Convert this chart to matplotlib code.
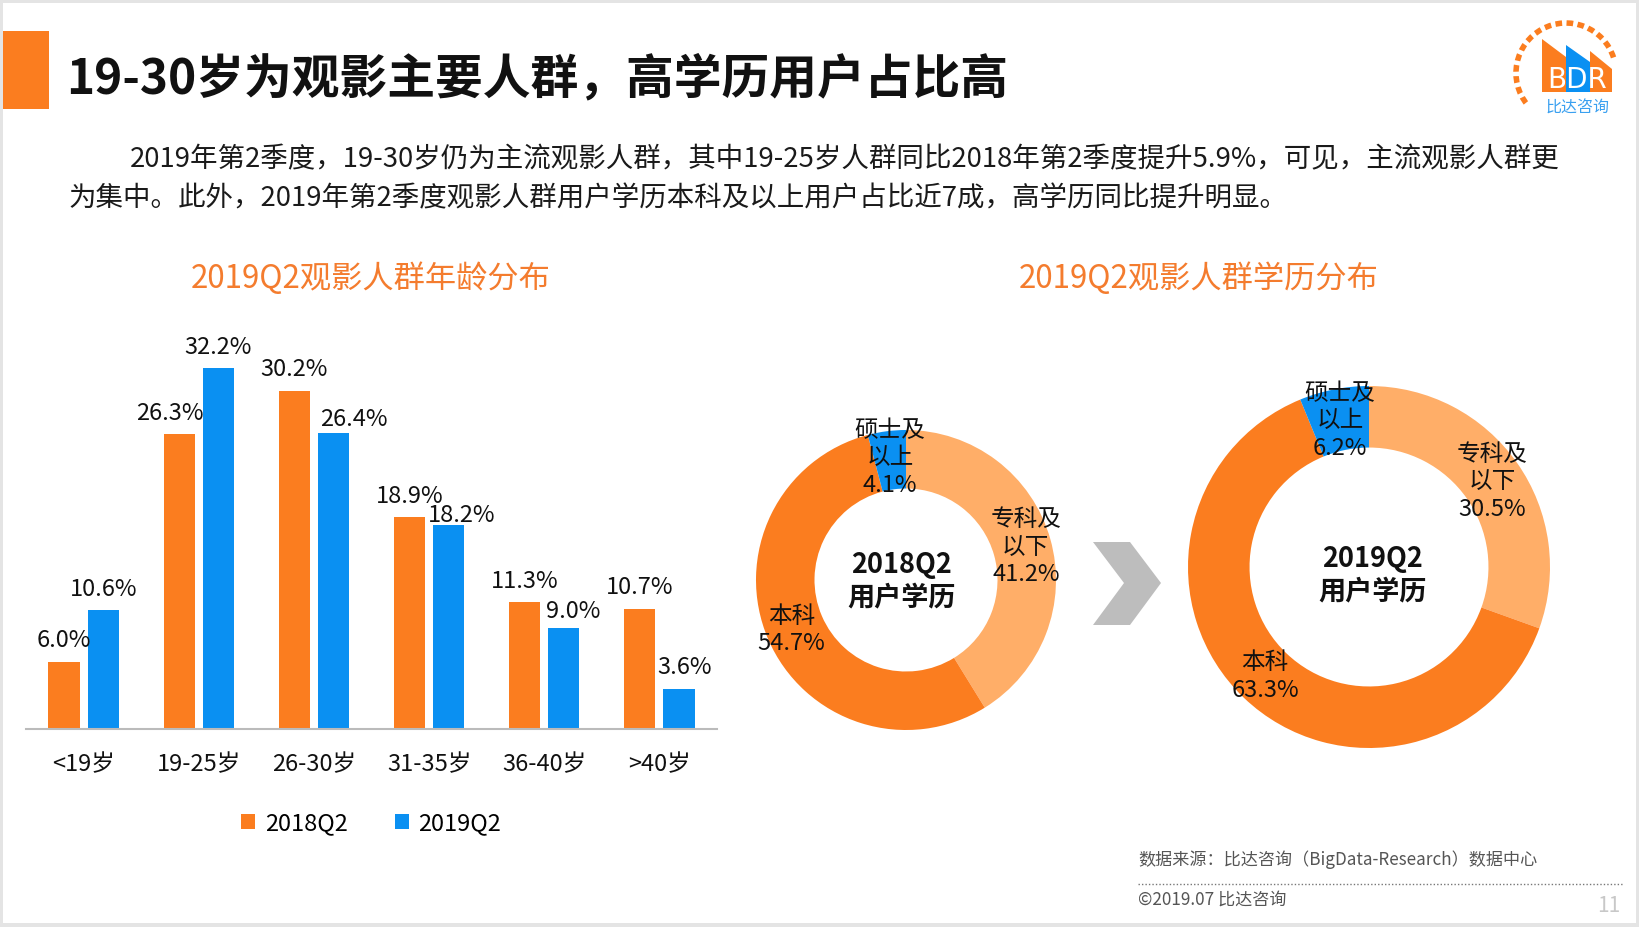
import matplotlib
matplotlib.use("Agg")
import matplotlib.pyplot as plt
from matplotlib.patches import Rectangle, Polygon, Arc
import numpy as np

plt.rcParams["font.family"] = ["Noto Sans CJK SC", "DejaVu Sans"]

# ---- data ----
age_groups = ["<19岁", "19-25岁", "26-30岁", "31-35岁", "36-40岁", ">40岁"]
age_2018 = [6.0, 26.3, 30.2, 18.9, 11.3, 10.7]
age_2019 = [10.6, 32.2, 26.4, 18.2, 9.0, 3.6]
series_names = ["2018Q2", "2019Q2"]

edu_names = ["专科及\n以下", "本科", "硕士及\n以上"]
edu_2018 = [41.2, 54.7, 4.1]
edu_2019 = [30.5, 63.3, 6.2]

# label nudges (points) where the source moved labels off-centre
nudge_2018 = [(0, 0), (-7, 0), (0, 0), (0, 0), (0, 0), (0, 0)]
nudge_2019 = [(0, 0), (0, 0), (15, -5), (9, -8), (7, -3), (4, 0)]

ORANGE = "#FB7D1F"
BLUE = "#0A90F2"
LIGHT = "#FFAE68"
TITLE_ORANGE = "#F47C2E"

W, H = 1640, 928
fig = plt.figure(figsize=(W / 100, H / 100), dpi=100, facecolor="#E4E4E4")


def fx(x):
    return x / W


def fy(y):
    return 1 - y / H


# slide background
fig.patches.append(Rectangle((fx(3), fy(924)), fx(1633), 920 / H,
                             transform=fig.transFigure, facecolor="white",
                             edgecolor="none", zorder=-10))
fig.patches.append(Rectangle((fx(3), fy(110)), fx(46), 78 / H,
                             transform=fig.transFigure, facecolor=ORANGE,
                             edgecolor="none", zorder=-5))

fig.text(fx(66), fy(79), "19-30岁为观影主要人群，高学历用户占比高",
         fontsize=34.4, fontweight="bold", color="#111111", va="center")
fig.text(fx(130), fy(160),
         "2019年第2季度，19-30岁仍为主流观影人群，其中19-25岁人群同比2018年第2季度提升5.9%，可见，主流观影人群更",
         fontsize=19.8, color="#1a1a1a", va="center")
fig.text(fx(68), fy(199),
         "为集中。此外，2019年第2季度观影人群用户学历本科及以上用户占比近7成，高学历同比提升明显。",
         fontsize=19.8, color="#1a1a1a", va="center")

fig.text(fx(371), fy(279), "2019Q2观影人群年龄分布", fontsize=22.5,
         color=TITLE_ORANGE, ha="center", va="center")
fig.text(fx(1199), fy(279), "2019Q2观影人群学历分布", fontsize=22.5,
         color=TITLE_ORANGE, ha="center", va="center")

# ---- bar chart ----
px_per_pct = 11.2
ymax = 35
ax = fig.add_axes([fx(26), (H - 730) / H, (717 - 26) / W, ymax * px_per_pct / H])
x = np.arange(len(age_groups))
bw = 0.27
b1 = ax.bar(x - 0.17, age_2018, bw, color=ORANGE, label=series_names[0])
b2 = ax.bar(x + 0.17, age_2019, bw, color=BLUE, label=series_names[1])
ax.set_xlim(-0.5, len(age_groups) - 0.5)
ax.set_ylim(0, ymax)
for s in ["top", "left", "right"]:
    ax.spines[s].set_visible(False)
ax.spines["bottom"].set_color("#BBBBBB")
ax.spines["bottom"].set_linewidth(1.5)
ax.set_yticks([])
ax.set_xticks(x)
ax.set_xticklabels(age_groups, fontsize=17, color="#111111")
ax.tick_params(axis="x", length=0, pad=17)
ax.patch.set_alpha(0)

for bars, vals, nudges in [(b1, age_2018, nudge_2018), (b2, age_2019, nudge_2019)]:
    for rect, v, (dx, dy) in zip(bars, vals, nudges):
        ax.annotate(f"{v:.1f}%", (rect.get_x() + rect.get_width() / 2, v),
                    xytext=(dx, 16 + dy), textcoords="offset points",
                    ha="center", va="center", fontsize=17, color="#111111")

leg = fig.legend(handles=[b1, b2], loc="center", bbox_to_anchor=(fx(371), fy(824)),
                 ncol=2, frameon=False, fontsize=17, handlelength=0.6,
                 handleheight=0.6, handletextpad=0.4, columnspacing=2.0)


# ---- donuts ----
def donut(cx, cy, r, vals, width, center_label, center_dx, center_dy):
    a = fig.add_axes([fx(cx - r), fy(cy + r), 2 * r / W, 2 * r / H])
    wedges, _ = a.pie(vals, colors=[LIGHT, ORANGE, BLUE], startangle=90,
                      counterclock=False, radius=1,
                      wedgeprops=dict(width=width, edgecolor="none"))
    a.set_xlim(-1, 1)
    a.set_ylim(-1, 1)
    a.set_aspect("equal")
    a.axis("off")
    for w, name, v in zip(wedges, edu_names, vals):
        ang = np.deg2rad((w.theta1 + w.theta2) / 2)
        rr = 0.83
        a.text(rr * np.cos(ang), rr * np.sin(ang), f"{name}\n{v:.1f}%",
               ha="center", va="center", fontsize=17, color="#111111",
               linespacing=1.25)
    a.text(center_dx, center_dy, center_label, ha="center", va="center",
           fontsize=19.5, fontweight="bold", color="#111111", linespacing=1.2)
    return a


donut(906, 581, 150, edu_2018, 0.39, "2018Q2\n用户学历", -0.03, 0.0)
donut(1369, 568, 181, edu_2019, 0.34, "2019Q2\n用户学历", 0.02, -0.04)

# chevron arrow between donuts
chev = [(1093, 543), (1130, 543), (1161, 584), (1130, 626), (1093, 626), (1124, 584)]
fig.patches.append(Polygon([(fx(px), fy(py)) for px, py in chev], closed=True,
                           transform=fig.transFigure, facecolor="#BDBDBD",
                           edgecolor="none"))

# ---- logo ----
fig.patches.append(Arc((fx(1566), fy(74)), 2 * 50 / W, 2 * 50 / H, theta1=30, theta2=235,
                       transform=fig.transFigure, color=ORANGE, lw=4,
                       linestyle=(0, (1.2, 0.8))))
for pts, c in [([(1542, 93), (1542, 40), (1566, 58), (1566, 93)], ORANGE),
               ([(1566, 93), (1566, 46), (1590, 63), (1590, 93)], BLUE),
               ([(1590, 93), (1590, 52), (1612, 70), (1612, 93)], ORANGE)]:
    fig.patches.append(Polygon([(fx(a), fy(b)) for a, b in pts], closed=True,
                               transform=fig.transFigure, facecolor=c, edgecolor="none"))
fig.text(fx(1577), fy(80), "BDR", fontsize=20, color="white", ha="center",
         va="center", family=["DejaVu Sans"])
fig.text(fx(1578), fy(108), "比达咨询", fontsize=11.5, color="#3AA0F0",
         ha="center", va="center")

# ---- footer ----
fig.text(fx(1138), fy(860), "数据来源：比达咨询（BigData-Research）数据中心",
         fontsize=12.3, color="#555555", va="center")
fig.add_artist(plt.Line2D([fx(1138), fx(1623)], [fy(885), fy(885)],
                          transform=fig.transFigure, color="#777777", lw=1,
                          linestyle=(0, (1, 1.5))))
fig.text(fx(1138), fy(900), "©2019.07 比达咨询", fontsize=12.3, color="#555555",
         va="center")
fig.text(fx(1620), fy(906), "11", fontsize=15, color="#C8C8C8", ha="right",
         va="center")

fig.savefig("out.png", dpi=100, facecolor=fig.get_facecolor())
